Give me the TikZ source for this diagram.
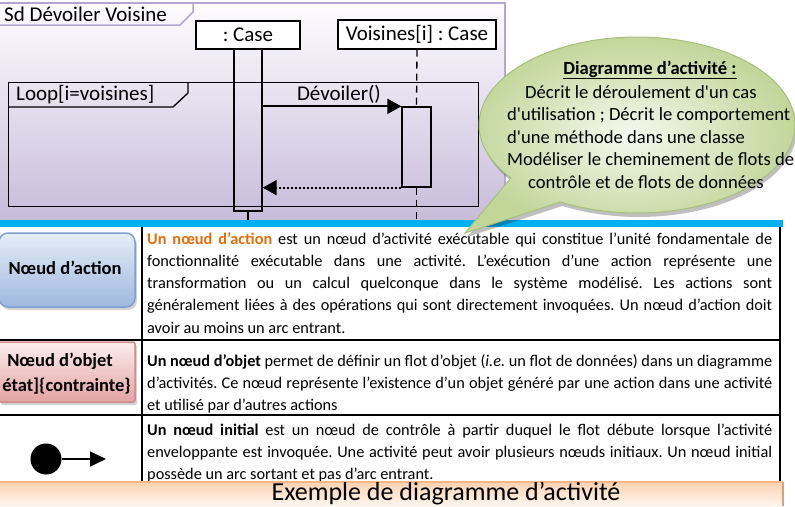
\documentclass[tikz,border=0pt]{standalone}
\usepackage{fontspec}
\setmainfont{Carlito}[Ligatures=TeXOff]
\usetikzlibrary{arrows.meta,shadows,calc}

\definecolor{frameTop}{HTML}{FDFCFF}
\definecolor{frameBot}{HTML}{C8BCDA}
\definecolor{frameLine}{HTML}{B3A6D3}
\definecolor{barBlue}{HTML}{00B0F0}
\definecolor{bubIn}{HTML}{F5F9EE}
\definecolor{bubOut}{HTML}{C2D69A}
\definecolor{bubLine}{HTML}{A6C07A}
\definecolor{actTop}{HTML}{E6EDF7}
\definecolor{actBot}{HTML}{9DB8DD}
\definecolor{actLine}{HTML}{7F9FCF}
\definecolor{objTop}{HTML}{FCEDED}
\definecolor{objBot}{HTML}{E3A3A3}
\definecolor{objLine}{HTML}{D08C8C}
\definecolor{orangeTxt}{HTML}{E46C0A}
\definecolor{exTop}{HTML}{FBD3B1}
\definecolor{exBot}{HTML}{FEF6EF}
\definecolor{exLine}{HTML}{F7B784}
\definecolor{exEdge}{HTML}{D9A27C}

\newcommand\seqfont{\fontsize{21}{25}\selectfont}
\newcommand\tblfont{\fontsize{16.3}{22}\selectfont}
\newcommand\bubfont{\fontsize{18.6}{22}\selectfont}
\newcommand\jline[1]{\makebox[625pt][s]{#1}}
\frenchspacing

\begin{document}
\begin{tikzpicture}[x=1pt,y=-1pt,
  objbox/.style={draw, line width=1.3pt, fill=white, inner sep=0pt, font=\seqfont},
  actbar/.style={draw, line width=1.3pt, inner sep=0pt},
  msg/.style={line width=1.8pt, -{Triangle[length=14pt,width=15pt]}},
  retmsg/.style={line width=2pt, dash pattern=on 2pt off 2pt, -{Triangle[length=14pt,width=15pt]}},
  lifeline/.style={line width=1.3pt, dash pattern=on 7pt off 5pt},
  tbl/.style={line width=2pt},
  tline/.style={anchor=base west, inner sep=0pt, font=\tblfont},
  bline/.style={anchor=base west, inner sep=0pt, font=\bubfont},
  leftlabel/.style={inner sep=0pt, font=\bfseries\fontsize{18.5}{22}\selectfont},
  actionbox/.style={draw=actLine, line width=1.5pt, rounded corners=9pt,
    top color=actTop, bottom color=actBot, minimum width=136pt, minimum height=74pt,
    inner sep=0pt, drop shadow={shadow xshift=2pt, shadow yshift=-3pt, opacity=.35}},
  objectbox/.style={draw=objLine, line width=1.5pt, rounded corners=2pt,
    top color=objTop, bottom color=objBot, minimum width=136pt, minimum height=60pt,
    inner sep=0pt, drop shadow={shadow xshift=2pt, shadow yshift=-3pt, opacity=.35}}]

\useasboundingbox (0,0) rectangle (795,506);

% ---------- sequence frame ----------
\fill[top color=frameTop, bottom color=frameBot] (0,3) rectangle (505,220);
\draw[frameLine, line width=1.5pt] (0,3) -- (505,3) -- (505,220);
\draw[frameLine, line width=1.5pt] (0,25) -- (180,25) -- (193,12) -- (193,3);
\node[anchor=west, inner sep=0pt, font=\seqfont] (sdTitle) at (4,14.5) {Sd Dévoiler Voisine};

% lifeline heads
\node[objbox, minimum width=104pt, minimum height=28pt] (caseBox) at (248,35) {: Case};
\node[objbox, minimum width=158pt, minimum height=29pt] (voisBox) at (417,34.5) {Voisines[i] : Case};

% activation bars
\node[actbar, minimum width=28pt, minimum height=162pt] (caseBar) at (248,130) {};
\node[actbar, minimum width=29pt, minimum height=80pt] (voisBar) at (416.5,147) {};

% loop fragment
\node[draw, line width=1.3pt, minimum width=470pt, minimum height=124pt, inner sep=0pt, anchor=north west] (loopFrame) at (8,82) {};
\draw[line width=1.3pt] (8,107) -- (173,107) -- (188,93) -- (188,82);
\node[anchor=west, inner sep=0pt, font=\seqfont] (loopLabel) at (16,95) {Loop[i=voisines]};

% lifelines
\coordinate (caseEnd) at (248,220);
\coordinate (voisEnd) at (416.5,222);
\draw[line width=1.3pt] (caseBar.south) -- (caseEnd);
\draw[lifeline] (voisBox.south) -- (voisBar.north);
\draw[lifeline] (voisBar.south) -- (voisEnd);

% messages
\draw[msg] (caseBar.east |- voisBar.north) -- node[pos=0.55, above=1pt, inner sep=1pt, font=\seqfont] (msgLabel) {Dévoiler()} (voisBar.north west);
\draw[retmsg] (voisBar.south west) -- (caseBar.east |- voisBar.south);

% ---------- blue rule ----------
\fill[barBlue] (0,220) rectangle (783,227);

% ---------- callout ----------
\fill[black, opacity=.25] plot[smooth, domain=143:479, samples=120] ({639+158*cos(\x)}, {129+88*sin(\x)}) -- (467,237) -- cycle;
\draw[bubLine, line width=1pt, shading=radial, inner color=bubIn, outer color=bubOut]
  plot[smooth, domain=143:479, samples=120] ({637+158*cos(\x)}, {125+88*sin(\x)}) -- (465,233) -- cycle;
\node[anchor=base, inner sep=0pt, font=\bfseries\bubfont] (bubTitle) at (650,74) {\underline{Diagramme d’activité :}};
\node[bline] (bub1) at (525,98) {Décrit le déroulement d'un cas};
\node[bline] (bub2) at (507,120) {d'utilisation ; Décrit le comportement};
\node[bline] (bub3) at (507,143) {d'une méthode dans une classe};
\node[bline] (bub4) at (507,165) {Modéliser le cheminement de flots de};
\node[bline] (bub5) at (528,188) {contrôle et de flots de données};

% ---------- table ----------
\draw[tbl] (142,227) -- (142,482);
\draw[tbl] (780,227) -- (780,482);
\draw[tbl] (0,340) -- (780,340);
\draw[tbl] (0,415) -- (780,415);

% action node row
\node[actionbox] (actNode) at (67,270) {};
\node[leftlabel] (actLabel) at (65,268) {Nœud d’action};
\node[tline] (a1) at (147,244) {\jline{\textbf{\textcolor{orangeTxt}{Un nœud d’action}} est un nœud d’activité exécutable qui constitue l’unité fondamentale de}};
\node[tline] (a2) at (147,266.25) {\jline{fonctionnalité exécutable dans une activité. L’exécution d’une action représente une}};
\node[tline] (a3) at (147,288.5) {\jline{transformation ou un calcul quelconque dans le système modélisé. Les actions sont}};
\node[tline] (a4) at (147,310.75) {\jline{généralement liées à des opérations qui sont directement invoquées. Un nœud d’action doit}};
\node[tline] (a5) at (147,333) {avoir au moins un arc entrant.};

% object node row
\node[objectbox] (objNode) at (67,372) {};
\node[leftlabel] (objLabelA) at (60,361) {Nœud d’objet};
\node[leftlabel, anchor=east] (objLabelB) at (131,386) {état]\{contrainte\}};
\node[tline] (b1) at (147,366) {\jline{\textbf{Un nœud d’objet} permet de définir un flot d’objet (\textit{i.e.} un flot de données) dans un diagramme}};
\node[tline] (b2) at (147,388) {\jline{d’activités. Ce nœud représente l’existence d’un objet généré par une action dans une activité}};
\node[tline] (b3) at (147,410) {et utilisé par d’autres actions};

% initial node row
\node[circle, fill=black, inner sep=0pt, minimum size=31pt] (initNode) at (46,459) {};
\coordinate (initTip) at (106,459);
\draw[line width=1.5pt, -{Triangle[length=16pt,width=15pt]}] (initNode) -- (initTip);
\node[tline] (c1) at (147,435) {\jline{\textbf{Un nœud initial} est un nœud de contrôle à partir duquel le flot débute lorsque l’activité}};
\node[tline] (c2) at (147,457) {\jline{enveloppante est invoquée. Une activité peut avoir plusieurs nœuds initiaux. Un nœud initial}};
\node[tline] (c3) at (147,479) {possède un arc sortant et pas d’arc entrant.};

% ---------- caption bar ----------
\fill[top color=exTop, bottom color=exBot] (0,482) rectangle (783,506);
\draw[exLine, line width=1.5pt] (0,482) -- (783,482);
\draw[exEdge, line width=1.5pt] (783,482) -- (783,506);
\node[anchor=base, inner sep=0pt, font=\fontsize{26}{28}\selectfont] (caption) at (446,500) {Exemple de diagramme d’activité};

\end{tikzpicture}
\end{document}
